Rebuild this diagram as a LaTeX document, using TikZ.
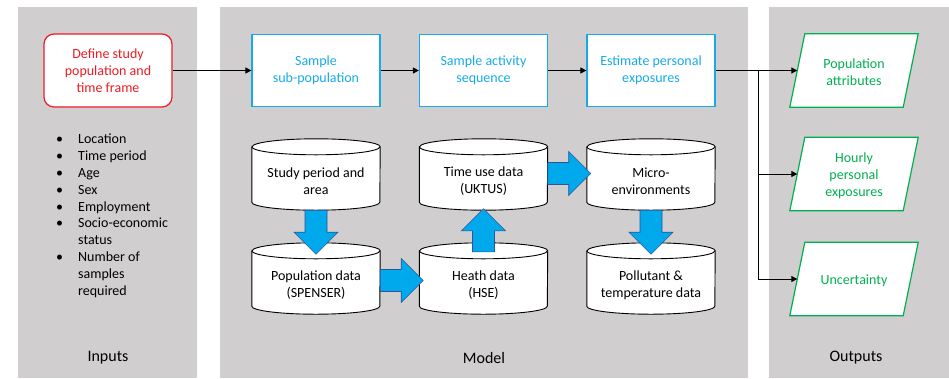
\documentclass[tikz,border=0pt]{standalone}
\usepackage{fontspec}
\setmainfont{Carlito}
\usetikzlibrary{calc,backgrounds,arrows.meta}

\definecolor{panelgray}{RGB}{208,206,206}
\definecolor{stepred}{RGB}{236,28,36}
\definecolor{stepblue}{RGB}{24,170,232}
\definecolor{outgreen}{RGB}{0,176,80}
\definecolor{fatfill}{RGB}{0,168,236}
\definecolor{fatedge}{RGB}{47,85,151}

\tikzset{
  panel/.style={fill=panelgray, draw=none},
  txt/.style={font=\fontsize{14}{16.8}\selectfont, align=center, inner sep=0pt},
  redbox/.style={txt, draw=stepred, text=stepred, line width=1.2pt, rounded corners=10pt,
    minimum width=128pt, minimum height=73pt, fill=white},
  bluebox/.style={txt, draw=stepblue, text=stepblue, line width=1.2pt,
    minimum width=128pt, minimum height=72pt, fill=white},
  outbox/.style={txt, text=outgreen, minimum width=113pt, minimum height=69pt},
  outline/.style={draw=outgreen, line width=1.2pt, fill=white, line join=miter},
  dbbox/.style={txt, minimum width=128pt, minimum height=57pt},
  dbline/.style={draw=black, line width=0.9pt, fill=white},
  flow/.style={draw=black, line width=1pt, -{Triangle[length=6pt,width=6pt]}},
  fatarrowstyle/.style={fill=fatfill, draw=fatedge, line width=0.6pt, line join=miter},
  paneltitle/.style={font=\fontsize{16}{19}\selectfont, inner sep=0pt},
}

% cylinder: the node box starts 6pt below the centre of the top ellipse
\newcommand\drawdb[1]{%
  \path[dbline] ($(#1.north west)+(0,6)$) -- ($(#1.south west)+(0,8)$)
    arc[start angle=180, end angle=360, x radius=64, y radius=8]
    -- ($(#1.north east)+(0,6)$)
    arc[start angle=0, end angle=180, x radius=64, y radius=8] -- cycle;
  \draw[line width=0.9pt] ($(#1.north west)+(0,6)$)
    arc[start angle=180, end angle=360, x radius=64, y radius=8];
}

% block arrow: start point, direction, length
\newcommand\fatarrow[3]{%
  \draw[fatarrowstyle, shift={#1}, rotate=#2]
    (0,-11) -- ({#3-22},-11) -- ({#3-22},-22) -- (#3,0)
    -- ({#3-22},22) -- ({#3-22},11) -- (0,11) -- cycle;
}

% parallelogram outline: 73pt tall, its middle 2pt above the node centre
\newcommand\drawout[1]{%
  \path[outline] ($(#1.south west)+(-7.5,0)$) -- ($(#1.south east)+(-7.5,0)$)
    -- ($(#1.north east)+(7.5,4)$) -- ($(#1.north west)+(7.5,4)$) -- cycle;
}

\begin{document}
\begin{tikzpicture}[x=1pt, y=1pt]
\useasboundingbox (0,0) rectangle (949,-378);

% step boxes
\node[redbox]  (define) at (108,-70.5)   {Define study\\population and\\time frame};
\node[bluebox] (samp)   at (316,-70.5)   {Sample\\sub-population};
\node[bluebox] (act)    at (483.5,-70.5) {Sample activity\\sequence};
\node[bluebox] (est)    at (651,-70.5)   {Estimate personal\\exposures};

% outputs
\node[outbox] (popattr) at (854,-72.5) {Population\\attributes};
\node[outbox] (hourly)  at (854,-176)  {Hourly\\personal\\exposures};
\node[outbox] (uncert)  at (854,-281)  {Uncertainty};

% data sources
\node[dbbox] (study)  at (316,-181.5)   {Study period and\\area};
\node[dbbox] (timeuse) at (483.5,-181.5) {Time use data\\(UKTUS)};
\node[dbbox] (micro)  at (651,-181.5)   {Micro-\\environments};
\node[dbbox] (popdata) at (316,-285.5)   {Population data\\(SPENSER)};
\node[dbbox] (health) at (483.5,-285.5) {Heath data\\(HSE)};
\node[dbbox] (poll)   at (651,-285.5)   {Pollutant \&\\temperature data};

% inputs list
\node[txt, align=left, anchor=north west] (inlist) at (56,-132) {%
  \strut\makebox[22pt][l]{\textbullet}Location\\
  \makebox[22pt][l]{\textbullet}Time period\\
  \makebox[22pt][l]{\textbullet}Age\\
  \makebox[22pt][l]{\textbullet}Sex\\
  \makebox[22pt][l]{\textbullet}Employment\\
  \makebox[22pt][l]{\textbullet}Socio-economic\\
  \hspace*{22pt}status\\
  \makebox[22pt][l]{\textbullet}Number of\\
  \hspace*{22pt}samples\\
  \hspace*{22pt}required};

% panel titles
\node[paneltitle] (tin)  at (108,-358)   {Inputs};
\node[paneltitle] (tmod) at (484,-358)   {Model};
\node[paneltitle] (tout) at (856,-358)   {Outputs};

\begin{scope}[on background layer]
  \path[panel] (18,-7)  rectangle (197,-378);
  \path[panel] (220,-7) rectangle (748,-378);
  \path[panel] (769,-7) rectangle (949,-378);
  \drawdb{study}\drawdb{timeuse}\drawdb{micro}
  \drawdb{popdata}\drawdb{health}\drawdb{poll}
  \drawout{popattr}\drawout{hourly}\drawout{uncert}
\end{scope}

% process flow
\draw[flow] (define) -- (samp);
\draw[flow] (samp) -- (act);
\draw[flow] (act) -- (est);
\coordinate (split) at (758,-70.5);
\draw[flow] (est.east) -- ($(popattr.west)+(0,2)$);
\draw[flow] (split) |- ($(hourly.west)+(0,2)$);
\draw[flow] (split) |- ($(uncert.west)+(0,2)$);

% data links
\fatarrow{($(study.south)$)}{-90}{44}
\fatarrow{($(popdata.east)+(0,5)$)}{0}{43}
\fatarrow{($(health.north)+(0,5)$)}{90}{43}
\fatarrow{($(timeuse.east)+(0,8)$)}{0}{43}
\fatarrow{(micro.south)}{-90}{44}
\end{tikzpicture}
\end{document}
